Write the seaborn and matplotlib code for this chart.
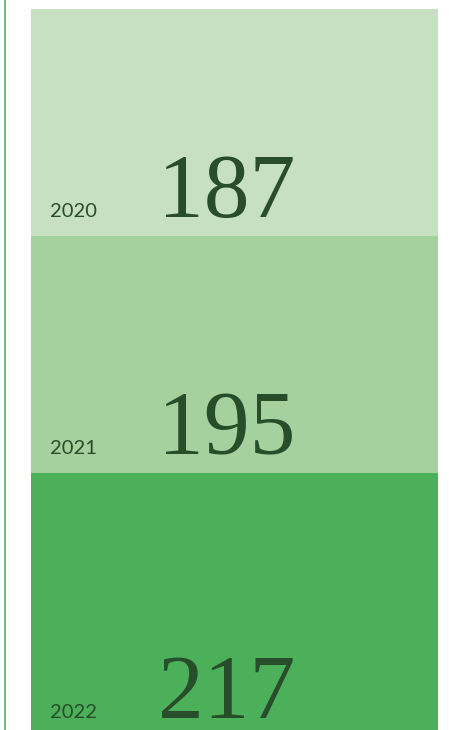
import matplotlib
matplotlib.use("Agg")
import matplotlib.pyplot as plt
from matplotlib.lines import Line2D
import numpy as np
import pandas as pd
import seaborn as sns

# Yearly totals, stacked top to bottom
years = ["2020", "2021", "2022"]
values = [187, 195, 217]
colors = ["#c7e0c2", "#a4d19d", "#4caf5a"]
text_color = "#274d2a"

sns.set_theme(style="white")

fig = plt.figure(figsize=(4.49, 7.30), dpi=100)
ax = fig.add_axes([31 / 449, 0, 407 / 449, 721 / 730])

cum = np.cumsum(values)
# draw the deepest layer first so shorter ones overlap on top
for i in reversed(range(len(years))):
    df = pd.DataFrame({"grp": ["all"], "val": [cum[i]]})
    sns.barplot(data=df, x="grp", y="val", color=colors[i], width=1.0,
                saturation=1, linewidth=0, ax=ax)

ax.set_xlim(-0.5, 0.5)
ax.set_ylim(593.4, 0)
ax.axis("off")

for i, (yr, v) in enumerate(zip(years, values)):
    ax.annotate(str(v), xy=(-0.5 + 0.312, cum[i]), xytext=(0, 19),
                textcoords="offset pixels", ha="left", va="baseline",
                fontsize=66, family="Liberation Serif", color=text_color,
                annotation_clip=False)
    ax.annotate(yr, xy=(-0.5 + 0.047, cum[i]), xytext=(0, 19),
                textcoords="offset pixels", ha="left", va="baseline",
                fontsize=14.5, family="Lato", color=text_color,
                annotation_clip=False)

fig.add_artist(Line2D([4.5 / 449, 4.5 / 449], [0, 1], color="#5cbf6a",
                      linewidth=1.3, transform=fig.transFigure))

fig.savefig("out.png", dpi=100, facecolor="white")
